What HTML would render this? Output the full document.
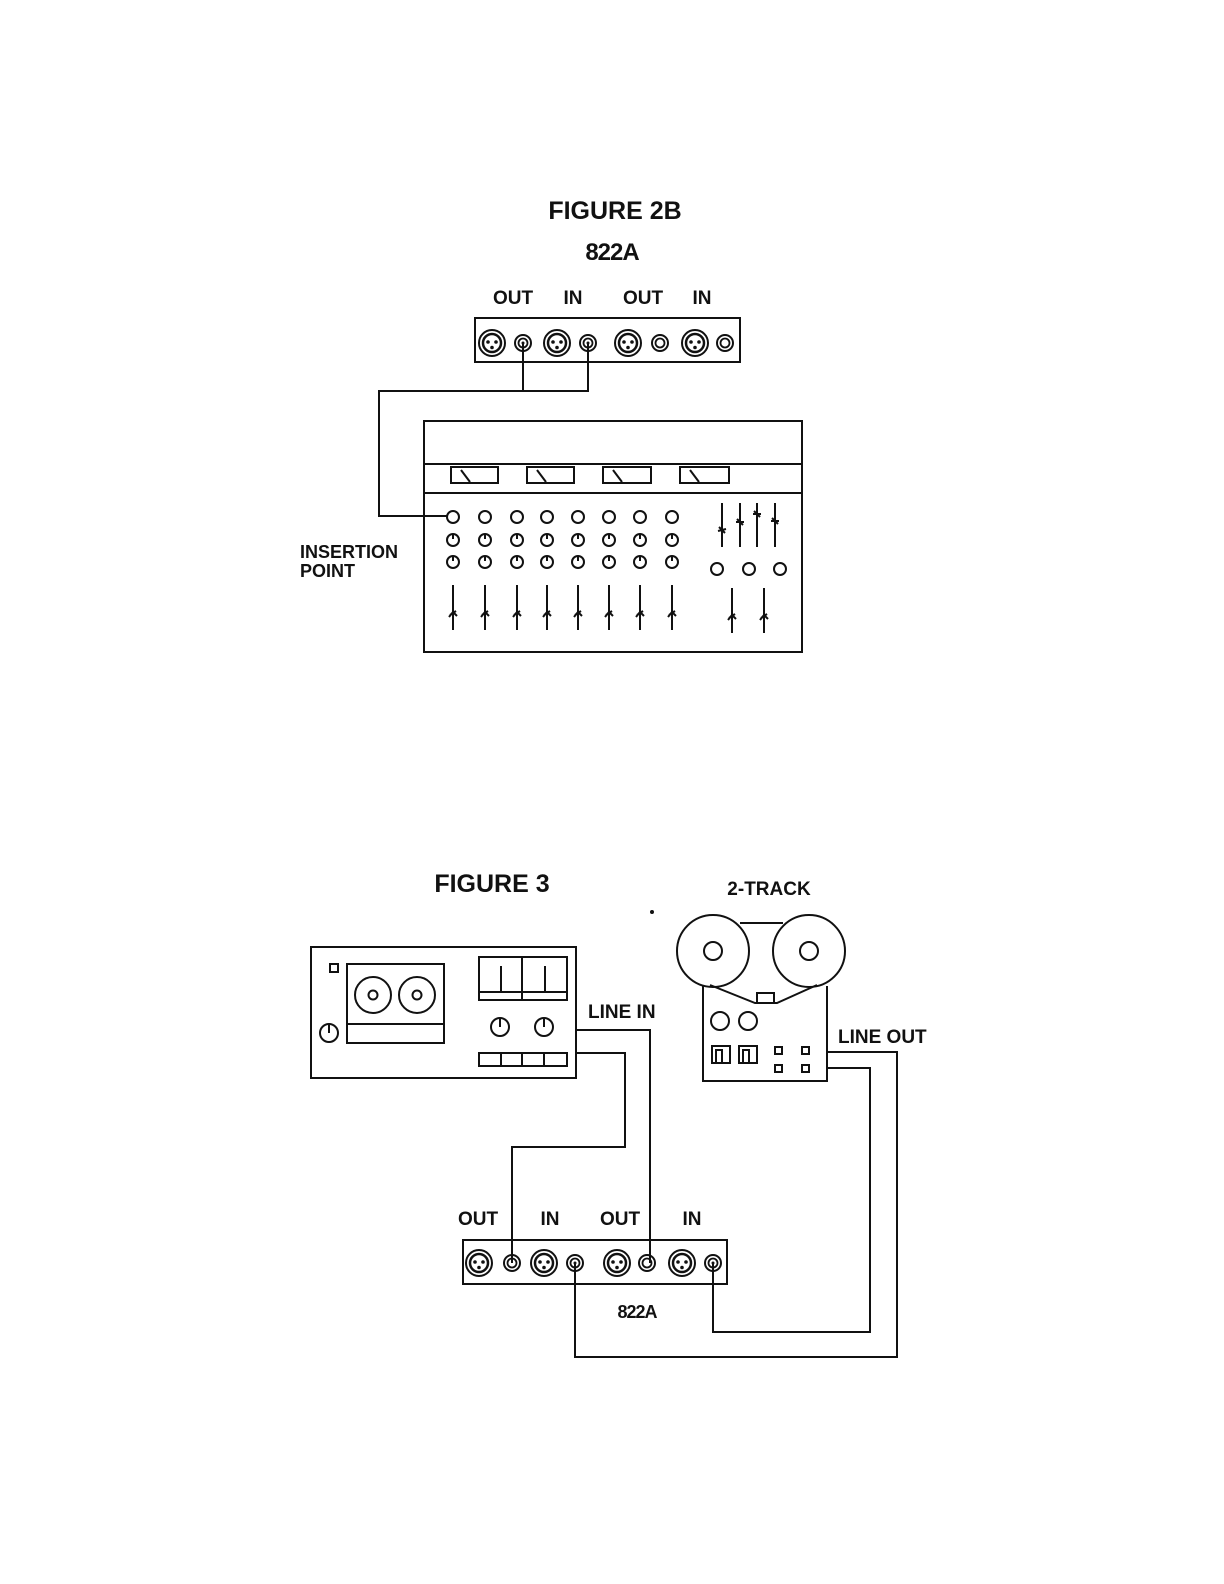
<!DOCTYPE html>
<html><head><meta charset="utf-8"><style>
html,body{margin:0;padding:0;background:#fff;}
svg{display:block;}
text{font-family:"Liberation Sans",Arial,sans-serif;font-weight:bold;fill:#111;}
</style></head><body>
<svg width="1224" height="1584" viewBox="0 0 1224 1584" xmlns="http://www.w3.org/2000/svg">
<defs>
<g id="xlr"><circle r="13" fill="none" stroke="#111" stroke-width="2"/><circle r="9" fill="none" stroke="#111" stroke-width="2.5"/><circle cx="-4" cy="-1" r="1.8" fill="#111"/><circle cx="4" cy="-1" r="1.8" fill="#111"/><circle cx="0" cy="4.5" r="1.8" fill="#111"/></g>
<g id="jk"><circle r="8" fill="none" stroke="#111" stroke-width="2"/><circle r="4.5" fill="none" stroke="#111" stroke-width="1.8"/></g>
<g id="jkd"><circle r="8" fill="none" stroke="#111" stroke-width="2"/><circle r="4.5" fill="none" stroke="#111" stroke-width="1.8"/><circle r="1.5" fill="#111"/></g>
<g id="k0"><circle r="6" fill="none" stroke="#111" stroke-width="2"/></g>
<g id="k1"><circle r="6" fill="none" stroke="#111" stroke-width="2"/><line x1="0" y1="-6" x2="0" y2="-1" stroke="#111" stroke-width="2"/></g>
<g id="fd"><line x1="0" y1="0" x2="0" y2="45" stroke="#111" stroke-width="2"/><path d="M-4 32 L0 27 L4 31 M-3 30 L3 26" fill="none" stroke="#111" stroke-width="2"/></g>
</defs>
<g fill="none" stroke="#111" stroke-width="2">

<!-- FIGURE 2B -->
<rect x="475" y="318" width="265" height="44"/>
<polyline points="523,343 523,391 588,391 588,343"/>
<polyline points="523,391 379,391 379,516 447,516"/>
<rect x="424" y="421" width="378" height="231"/>
<line x1="424" y1="464" x2="802" y2="464"/>
<line x1="424" y1="493" x2="802" y2="493"/>
<rect x="451" y="467" width="47" height="16"/>
<rect x="527" y="467" width="47" height="16"/>
<rect x="603" y="467" width="48" height="16"/>
<rect x="680" y="467" width="49" height="16"/>
<line x1="461" y1="470" x2="470" y2="482"/>
<line x1="537" y1="470" x2="546" y2="482"/>
<line x1="613" y1="470" x2="622" y2="482"/>
<line x1="690" y1="470" x2="699" y2="482"/>
<line x1="722" y1="503" x2="722" y2="547"/>
<line x1="740" y1="503" x2="740" y2="547"/>
<line x1="757" y1="503" x2="757" y2="547"/>
<line x1="775" y1="503" x2="775" y2="547"/>
<path d="M718 531 L726 529 M719 527 L725 533 M736 522 L744 522 M737 519 L743 525 M753 514 L761 514 M754 511 L760 517 M771 521 L779 521 M772 518 L778 524"/>
<circle cx="717" cy="569" r="6"/><circle cx="749" cy="569" r="6"/><circle cx="780" cy="569" r="6"/>

<!-- FIGURE 3 deck -->
<rect x="311" y="947" width="265" height="131"/>
<rect x="330" y="964" width="8" height="8"/>
<rect x="347" y="964" width="97" height="79"/>
<line x1="347" y1="1024" x2="444" y2="1024"/>
<circle cx="373" cy="995" r="18"/><circle cx="373" cy="995" r="4.5"/>
<circle cx="417" cy="995" r="18"/><circle cx="417" cy="995" r="4.5"/>
<circle cx="329" cy="1033" r="9"/><line x1="329" y1="1024" x2="329" y2="1033"/>
<rect x="479" y="957" width="88" height="43"/>
<line x1="522" y1="957" x2="522" y2="1000"/>
<line x1="479" y1="992" x2="567" y2="992"/>
<line x1="501" y1="966" x2="501" y2="992"/><line x1="545" y1="966" x2="545" y2="992"/>
<circle cx="500" cy="1027" r="9"/><line x1="500" y1="1018" x2="500" y2="1027"/>
<circle cx="544" cy="1027" r="9"/><line x1="544" y1="1018" x2="544" y2="1027"/>
<rect x="479" y="1053" width="88" height="13"/>
<line x1="501" y1="1053" x2="501" y2="1066"/><line x1="522" y1="1053" x2="522" y2="1066"/><line x1="544" y1="1053" x2="544" y2="1066"/>

<!-- 2-track -->
<circle cx="713" cy="951" r="36"/><circle cx="713" cy="951" r="9"/>
<circle cx="809" cy="951" r="36"/><circle cx="809" cy="951" r="9"/>
<line x1="740" y1="923" x2="783" y2="923"/>
<polyline points="703,985 703,1081 827,1081 827,986"/>
<polyline points="710,985 755,1003 777,1003 817,985"/>
<rect x="757" y="993" width="17" height="10"/>
<circle cx="720" cy="1021" r="9"/><circle cx="748" cy="1021" r="9"/>
<rect x="712" y="1046" width="18" height="17"/><polyline points="716,1063 716,1050 722,1050 722,1063"/>
<rect x="739" y="1046" width="18" height="17"/><polyline points="743,1063 743,1050 749,1050 749,1063"/>
<rect x="775" y="1047" width="7" height="7"/><rect x="802" y="1047" width="7" height="7"/>
<rect x="775" y="1065" width="7" height="7"/><rect x="802" y="1065" width="7" height="7"/>

<!-- 822A fig3 -->
<rect x="463" y="1240" width="264" height="44"/>
<polyline points="576,1030 650,1030 650,1263"/>
<polyline points="576,1053 625,1053 625,1147 512,1147 512,1263"/>
<polyline points="827,1052 897,1052 897,1357 575,1357 575,1263"/>
<polyline points="827,1068 870,1068 870,1332 713,1332 713,1263"/>
</g>

<g fill="#fff">
<use href="#xlr" x="492" y="343"/><use href="#jkd" x="523" y="343"/>
<use href="#xlr" x="557" y="343"/><use href="#jkd" x="588" y="343"/>
<use href="#xlr" x="628" y="343"/><use href="#jk" x="660" y="343"/>
<use href="#xlr" x="695" y="343"/><use href="#jk" x="725" y="343"/>

<use href="#k0" x="453" y="517"/><use href="#k0" x="485" y="517"/><use href="#k0" x="517" y="517"/><use href="#k0" x="547" y="517"/><use href="#k0" x="578" y="517"/><use href="#k0" x="609" y="517"/><use href="#k0" x="640" y="517"/><use href="#k0" x="672" y="517"/>
<use href="#k1" x="453" y="540"/><use href="#k1" x="485" y="540"/><use href="#k1" x="517" y="540"/><use href="#k1" x="547" y="540"/><use href="#k1" x="578" y="540"/><use href="#k1" x="609" y="540"/><use href="#k1" x="640" y="540"/><use href="#k1" x="672" y="540"/>
<use href="#k1" x="453" y="562"/><use href="#k1" x="485" y="562"/><use href="#k1" x="517" y="562"/><use href="#k1" x="547" y="562"/><use href="#k1" x="578" y="562"/><use href="#k1" x="609" y="562"/><use href="#k1" x="640" y="562"/><use href="#k1" x="672" y="562"/>
<use href="#fd" x="453" y="585"/><use href="#fd" x="485" y="585"/><use href="#fd" x="517" y="585"/><use href="#fd" x="547" y="585"/><use href="#fd" x="578" y="585"/><use href="#fd" x="609" y="585"/><use href="#fd" x="640" y="585"/><use href="#fd" x="672" y="585"/>
<use href="#fd" x="732" y="588"/><use href="#fd" x="764" y="588"/>

<use href="#xlr" x="479" y="1263"/><use href="#jk" x="512" y="1263"/>
<use href="#xlr" x="544" y="1263"/><use href="#jkd" x="575" y="1263"/>
<use href="#xlr" x="617" y="1263"/><use href="#jk" x="647" y="1263"/>
<use href="#xlr" x="682" y="1263"/><use href="#jkd" x="713" y="1263"/>
</g>
<circle cx="652" cy="912" r="2" fill="#111"/>

<text x="615" y="219" font-size="25" text-anchor="middle">FIGURE 2B</text>
<text x="612" y="260" font-size="24" text-anchor="middle" letter-spacing="-1">822A</text>
<text x="513" y="304" font-size="19" text-anchor="middle">OUT</text>
<text x="573" y="304" font-size="19" text-anchor="middle">IN</text>
<text x="643" y="304" font-size="19" text-anchor="middle">OUT</text>
<text x="702" y="304" font-size="19" text-anchor="middle">IN</text>
<text x="300" y="558" font-size="18">INSERTION</text>
<text x="300" y="577" font-size="18">POINT</text>

<text x="492" y="892" font-size="25" text-anchor="middle">FIGURE 3</text>
<text x="769" y="895" font-size="19" text-anchor="middle">2-TRACK</text>
<text x="588" y="1018" font-size="19">LINE IN</text>
<text x="838" y="1043" font-size="19">LINE OUT</text>
<text x="478" y="1225" font-size="19" text-anchor="middle">OUT</text>
<text x="550" y="1225" font-size="19" text-anchor="middle">IN</text>
<text x="620" y="1225" font-size="19" text-anchor="middle">OUT</text>
<text x="692" y="1225" font-size="19" text-anchor="middle">IN</text>
<text x="637" y="1318" font-size="18" text-anchor="middle" letter-spacing="-1">822A</text>
</svg>
</body></html>
